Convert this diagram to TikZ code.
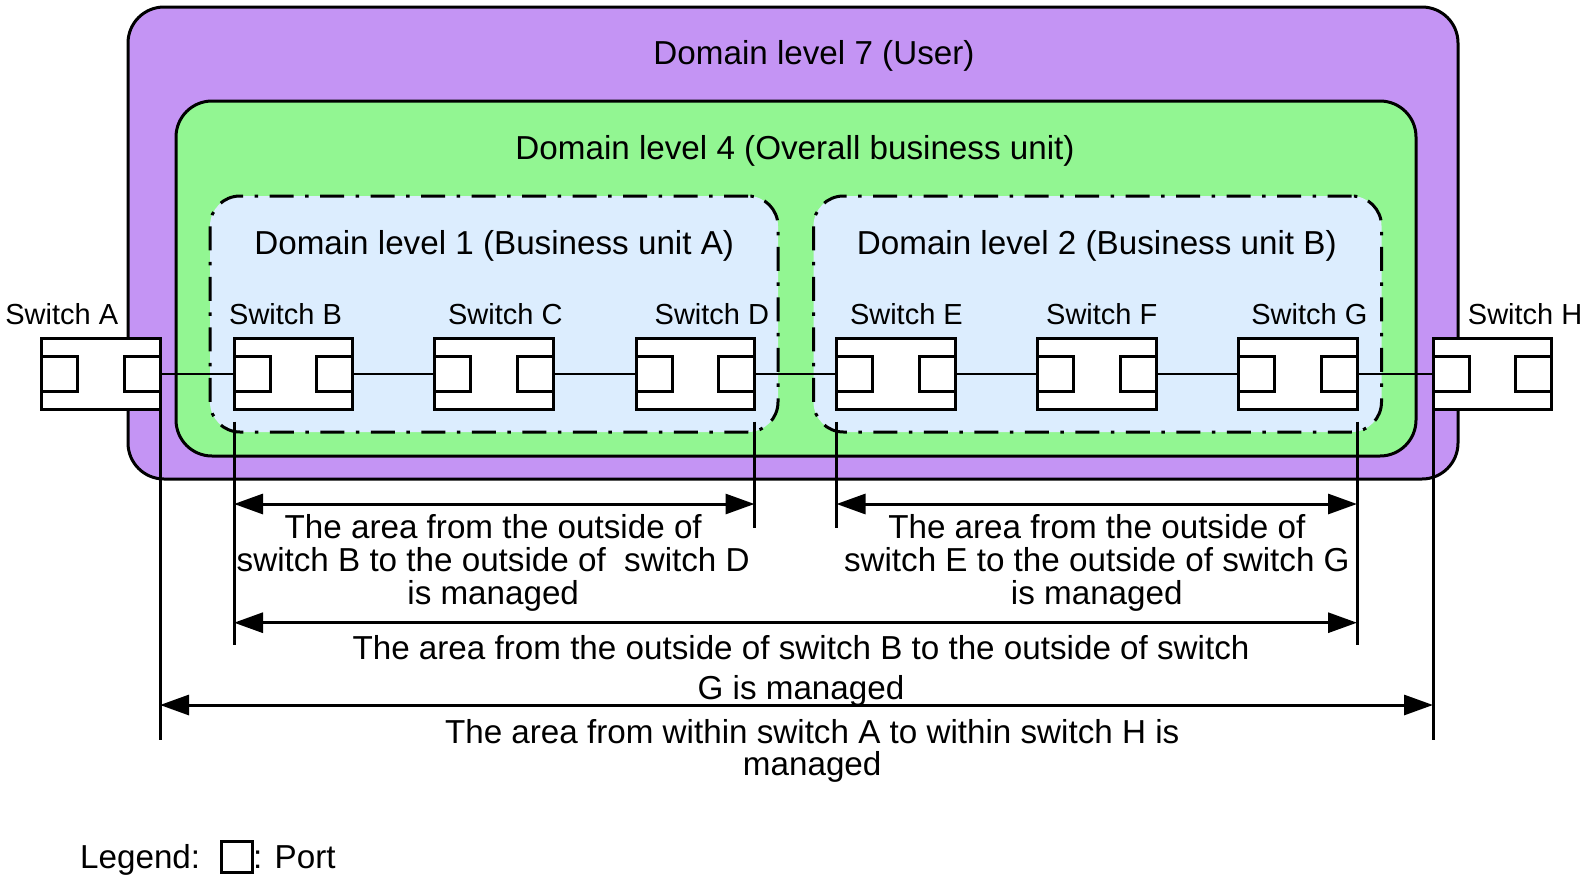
\documentclass[tikz,border=0pt]{standalone}
\usepackage{fontspec}
\setmainfont{Liberation Sans}
\usetikzlibrary{arrows.meta}
\definecolor{purp}{RGB}{196,148,244}
\definecolor{lgreen}{RGB}{146,246,146}
\definecolor{lblue}{RGB}{220,237,254}
\newcommand{\mylines}[1]{\vtop{\halign{\hfil##\hfil\cr#1\crcr}}}
\begin{document}
\begin{tikzpicture}[x=1pt,y=-1pt,
  domframe/.style={draw=black, line width=3pt, rounded corners=36pt, inner sep=0pt, outer sep=0pt},
  dom7/.style={domframe, fill=purp, minimum width=1330pt, minimum height=472pt},
  dom4/.style={domframe, fill=lgreen, minimum width=1240pt, minimum height=355pt},
  subdom/.style={draw=black, line width=3pt, fill=lblue, rounded corners=30pt,
    dash pattern=on 24pt off 11.5pt on 3.5pt off 11.5pt,
    minimum width=568pt, minimum height=236pt, inner sep=0pt, outer sep=0pt},
  switchbox/.style={draw, line width=3pt, fill=white, minimum width=118.5pt,
    minimum height=71pt, inner sep=0pt, outer sep=0pt},
  portbox/.style={draw, line width=3pt, fill=white, minimum width=36pt,
    minimum height=35pt, inner sep=0pt, outer sep=0pt},
  linkline/.style={line width=2pt},
  extline/.style={line width=3pt},
  dimarrow/.style={line width=3pt,
    {Triangle[length=29pt,width=20pt]}-{Triangle[length=29pt,width=20pt]}},
  bigtext/.style={font=\fontsize{33.2}{33}\selectfont, anchor=base, inner sep=0pt},
  swlabel/.style={font=\fontsize{29}{29}\selectfont, anchor=base, inner sep=0pt},
  legtext/.style={font=\fontsize{33.2}{33}\selectfont, anchor=base west, inner sep=0pt}
]
\useasboundingbox (0,0) rectangle (1588,884);

% domains
\node[dom7] (d7) at (793,243) {};
\node[dom4] (d4) at (796,278.5) {};
\node[subdom] (d1) at (494,314) {};
\node[subdom] (d2) at (1097.5,314) {};

\node[bigtext] (t7) at (814,64.3) {Domain level 7 (User)};
\node[bigtext] (t4) at (795,159.3) {Domain level 4 (Overall business unit)};
\node[bigtext] (t1) at (494.2,254.5) {Domain level 1 (Business unit A)};
\node[bigtext] (t2) at (1096.8,254.5) {Domain level 2 (Business unit B)};

% switches
\foreach \n/\x in {A/100.75,B/293.25,C/493.75,D/695.25,E/895.75,F/1096.75,G/1297.75,H/1492.25}{
  \node[switchbox] (s\n) at (\x,373.5) {};
  \node[portbox, anchor=west] (pl\n) at (s\n.west) {};
  \node[portbox, anchor=east] (pr\n) at (s\n.east) {};
}

% links
\foreach \a/\b in {A/B,B/C,C/D,D/E,E/F,F/G,G/H}{
  \draw[linkline] (pr\a.east) -- (pl\b.west);
}

% switch labels
\node[swlabel] (lA) at (61.8,324.5) {Switch A};
\node[swlabel] (lB) at (285.6,324.5) {Switch B};
\node[swlabel] (lC) at (505.3,324.5) {Switch C};
\node[swlabel] (lD) at (711.9,324.5) {Switch D};
\node[swlabel] (lE) at (906.4,324.5) {Switch E};
\node[swlabel] (lF) at (1101.8,324.5) {Switch F};
\node[swlabel] (lG) at (1309.4,324.5) {Switch G};
\node[swlabel] (lH) at (1525.1,324.5) {Switch H};

% helper coordinates
\coordinate (a1) at (0,504);
\coordinate (a3) at (0,622.7);
\coordinate (a4) at (0,705);
\coordinate (e1) at (0,527.6);
\coordinate (e2) at (0,645);
\coordinate (e3) at (0,740);

% extension lines
\draw[extline] ([yshift=-12.5pt]sB.south west) -- (sB.south west |- e2);
\draw[extline] ([yshift=-12.5pt]sD.south east) -- (sD.south east |- e1);
\draw[extline] ([yshift=-12.5pt]sE.south west) -- (sE.south west |- e1);
\draw[extline] ([yshift=-12.5pt]sG.south east) -- (sG.south east |- e2);
\draw[extline] (sA.south east) -- (sA.south east |- e3);
\draw[extline] (sH.south west) -- (sH.south west |- e3);

% dimension arrows
\draw[dimarrow] (sB.south west |- a1) -- (sD.south east |- a1);
\draw[dimarrow] (sE.south west |- a1) -- (sG.south east |- a1);
\draw[dimarrow] (sB.south west |- a3) -- (sG.south east |- a3);
\draw[dimarrow] (sA.south east |- a4) -- (sH.south west |- a4);

% annotations
\node[bigtext] (n1) at (493.2,538.3) {\mylines{The area from the outside of\cr switch B to the outside of\ \ switch D\cr is managed}};
\node[bigtext] (n2) at (1096.8,538.3) {\mylines{The area from the outside of\cr switch E to the outside of switch G\cr is managed}};
\node[bigtext, font=\fontsize{33.2}{40}\selectfont] (n3) at (801,659.5) {\mylines{The area from the outside of switch B to the outside of switch\cr G is managed}};
\node[bigtext, font=\fontsize{33.2}{32.5}\selectfont] (n4) at (812.2,743.3) {\mylines{The area from within switch A to within switch H is\cr managed}};

% legend
\node[legtext] (leg) at (80,868) {Legend:};
\node[portbox, minimum width=31pt, minimum height=31pt] (legport) at (237,857) {};
\node[legtext] (legp) at (253,868) {: Port};
\end{tikzpicture}
\end{document}
